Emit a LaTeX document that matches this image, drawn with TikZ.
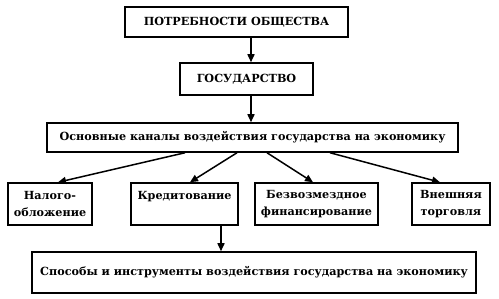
\documentclass[tikz,border=0pt]{standalone}
\usepackage{fontspec}
\setmainfont{DejaVu Serif}
\usetikzlibrary{arrows.meta}
\begin{document}
\begin{tikzpicture}[x=1pt,y=-1pt,
  box/.style={draw,line width=1.5pt,inner sep=0pt,align=center,font=\bfseries\fontsize{11.2}{17}\selectfont},
  arr/.style={line width=1.5pt,-{Triangle[width=7pt,length=8pt]}}]
\useasboundingbox (0,0) rectangle (499,299);
\node[box,minimum width=223pt,minimum height=30pt] (b1) at (236.5,22) {ПОТРЕБНОСТИ ОБЩЕСТВА};
\node[box,minimum width=133pt,minimum height=32pt] (b2) at (246.5,79) {ГОСУДАРСТВО};
\node[box,minimum width=411pt,minimum height=29pt] (b3) at (252.5,137.5) {Основные каналы воздействия государства на экономику};
\node[box,minimum width=84pt,minimum height=42pt] (ba) at (50,204) {Налого-\\обложение};
\node[box,minimum width=107pt,minimum height=42pt] (bb) at (184.5,204) {Кредитование\\\mbox{}};
\node[box,minimum width=123pt,minimum height=42pt] (bc) at (316.5,204) {Безвозмездное\\финансирование};
\node[box,minimum width=78pt,minimum height=42pt] (bd) at (451,204) {Внешняя\\торговля};
\node[box,minimum width=444pt,minimum height=41pt] (b5) at (254,272.5) {Способы и инструменты воздействия государства на экономику};
\draw[arr] (b1.south -| 251,0) -- (b2.north -| 251,0);
\draw[arr] (b2.south -| 251,0) -- (b3.north -| 251,0);
\draw[arr] (b3.south -| 185,0) -- (ba.north -| 58,0);
\draw[arr] (b3.south -| 237,0) -- (bb.north -| 190,0);
\draw[arr] (b3.south -| 267,0) -- (bc.north -| 313,0);
\draw[arr] (b3.south -| 330,0) -- (bd.north -| 440,0);
\draw[arr] (bb.south -| 221,0) -- (b5.north -| 221,0);
\end{tikzpicture}
\end{document}
